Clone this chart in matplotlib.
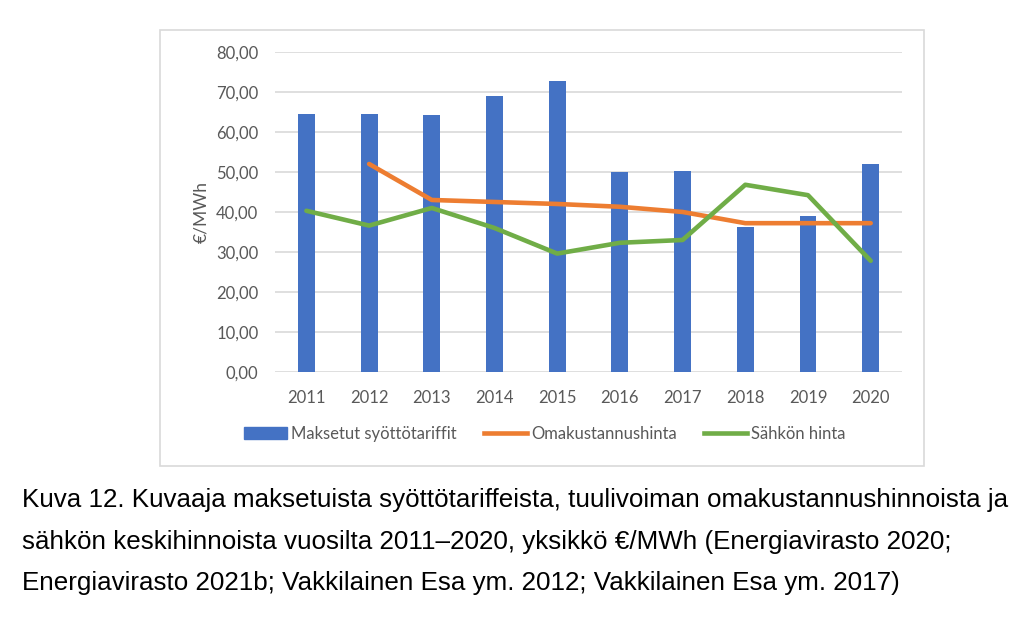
import matplotlib.pyplot as plt
from matplotlib.patches import Rectangle
from matplotlib.lines import Line2D

# arvot luettu kuvasta (€/MWh)
vuodet = ['2011', '2012', '2013', '2014', '2015', '2016', '2017', '2018', '2019', '2020']
syottotariffit = [64.5, 64.5, 64.2, 69.0, 72.8, 50.0, 50.3, 36.3, 39.0, 52.1]
omakustannus_vuodet = vuodet[1:]
omakustannus = [52.0, 43.0, 42.5, 42.0, 41.3, 40.0, 37.2, 37.2, 37.2]
sahkon_hinta = [40.3, 36.6, 41.0, 36.0, 29.6, 32.3, 33.0, 46.8, 44.2, 27.8]

sininen = '#4472C4'
oranssi = '#ED7D31'
vihrea = '#70AD47'
harmaa = '#595959'

fig = plt.figure(figsize=(10.24, 6.18), dpi=100)

# kaavion reunus
fig.patches.append(Rectangle((0.156, 0.246), 0.746, 0.705, transform=fig.transFigure,
                             fill=False, edgecolor='#D9D9D9', linewidth=1.2))

ax = fig.add_axes([0.2686, 0.398, 0.6123, 0.518])
x = range(len(vuodet))
ax.bar(x, syottotariffit, width=0.27, color=sininen, zorder=2)
ax.plot(range(1, len(vuodet)), omakustannus, color=oranssi, linewidth=3.3, zorder=3,
        solid_capstyle='round')
ax.plot(x, sahkon_hinta, color=vihrea, linewidth=3.3, zorder=4, solid_capstyle='round')

ax.set_xlim(-0.5, len(vuodet) - 0.5)
ax.set_ylim(0, 80)
ax.set_yticks(range(0, 81, 10))
ax.set_yticklabels([f'{v},00' for v in range(0, 81, 10)])
ax.set_xticks(list(x))
ax.set_xticklabels(vuodet)
ax.grid(axis='y', color='#D9D9D9', linewidth=1.2, zorder=0)
ax.set_axisbelow(True)
for s in ax.spines.values():
    s.set_visible(False)
ax.tick_params(length=0, colors=harmaa, labelsize=12, pad=13)
ax.tick_params(axis='y', pad=12)
for t in ax.get_xticklabels() + ax.get_yticklabels():
    t.set_family('Lato')
ax.set_ylabel('€/MWh', color=harmaa, fontsize=12.5, family='Lato', labelpad=5)

kahvat = [Rectangle((0, 0), 1, 1, color=sininen),
          Line2D([], [], color=oranssi, linewidth=3.3),
          Line2D([], [], color=vihrea, linewidth=3.3)]
fig.legend(kahvat, ['Maksetut syöttötariffit', 'Omakustannushinta', 'Sähkön hinta'],
           loc='center', bbox_to_anchor=(0.532, 0.298), ncol=3, frameon=False,
           prop={'family': 'Lato', 'size': 12}, labelcolor=harmaa,
           handlelength=2.6, handleheight=0.8, handletextpad=0.25, columnspacing=1.6)

teksti = ['Kuva 12. Kuvaaja maksetuista syöttötariffeista, tuulivoiman omakustannushinnoista ja',
          'sähkön keskihinnoista vuosilta 2011–2020, yksikkö €/MWh (Energiavirasto 2020;',
          'Energiavirasto 2021b; Vakkilainen Esa ym. 2012; Vakkilainen Esa ym. 2017)']
for i, rivi in enumerate(teksti):
    fig.text(0.021, 1 - (500 + i * 41.5) / 618, rivi, fontsize=18.7,
             family='Liberation Sans', va='center', ha='left', color='black')

fig.savefig('out.png', dpi=100)
